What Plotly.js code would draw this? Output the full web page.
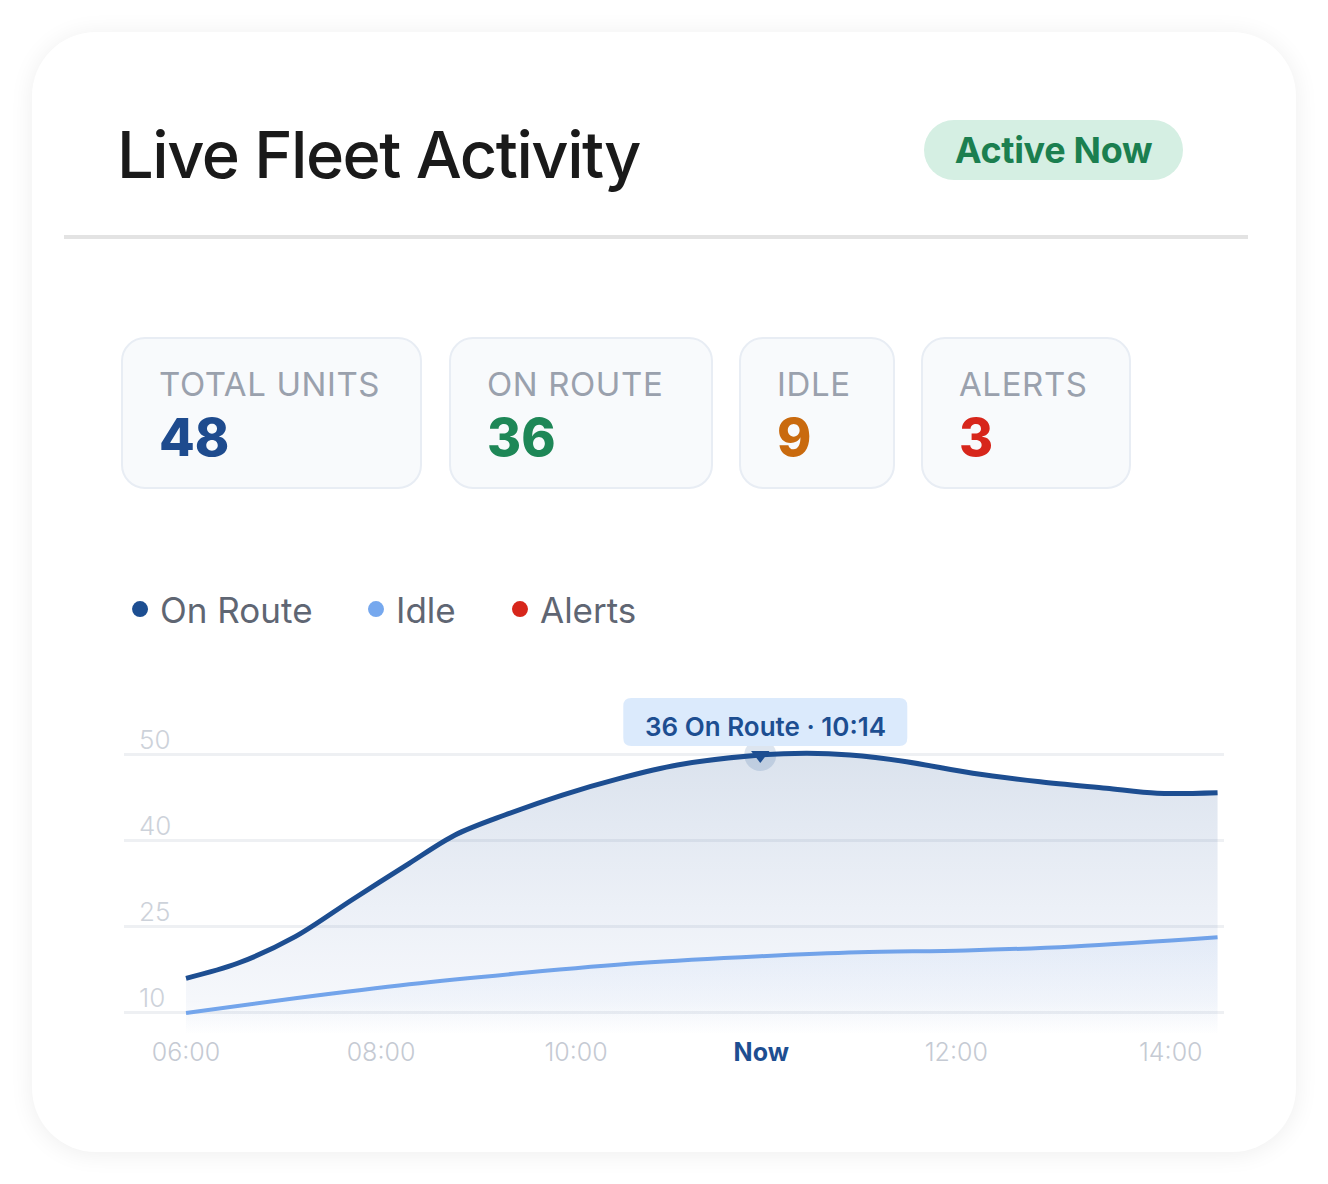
<!DOCTYPE html>
<html>
<head>
<meta charset="utf-8">
<script src="https://cdn.plot.ly/plotly-3.0.1.min.js"></script>
<style>
  html, body { margin:0; padding:0; background:#ffffff; width:1328px; height:1184px; overflow:hidden; font-family: Inter, "Noto Sans", sans-serif; }
  .card { position:absolute; left:32px; top:32px; width:1264px; height:1120px; border-radius:64px; background:#fff;
          box-shadow: 0 2px 24px rgba(0,0,0,0.07); }
  .title { position:absolute; left:117px; top:115px; font-size:65px; font-weight:500; color:#1a1a1a; letter-spacing:-1.5px; }
  .badge { position:absolute; left:924px; top:120px; width:259px; height:60px; border-radius:30px; background:#d5efe3;
           color:#1b7f50; font-weight:700; font-size:36px; line-height:60px; text-align:center; letter-spacing:-0.3px; }
  .divider { position:absolute; left:64px; top:235px; width:1184px; height:4px; background:#e3e3e3; }
  .stat { position:absolute; top:337px; height:148px; border:2px solid #e8edf4; background:#f8fafc; border-radius:24px; box-sizing:content-box; }
  .stat .lab { position:absolute; left:36px; top:25px; font-size:33px; color:#9aa1ad; letter-spacing:0.6px; white-space:nowrap; }
  .stat .val { position:absolute; left:36px; top:67px; font-size:52px; font-weight:800; white-space:nowrap; }
  #chart { position:absolute; left:0; top:0; width:1328px; height:1184px; }
</style>
</head>
<body>
<div class="card"></div>
<div class="title">Live Fleet Activity</div>
<div class="badge">Active Now</div>
<div class="divider"></div>
<div id="stats"></div>
<div id="chart"></div>
<script>
// ---- data ----
const statLabels = ["TOTAL UNITS", "ON ROUTE", "IDLE", "ALERTS"];
const statValues = [48, 36, 9, 3];
const statColors = ["#1e4b8e", "#1e8757", "#c96a0e", "#d7261b"];
const statLeft = [121, 449, 739, 921];
const statWidth = [297, 260, 152, 206];

// x positions (time slot units), tick labels
const tickPos = [6, 8, 10, 11.9, 13.9, 16.1];
const tickLabels = ["06:00", "08:00", "10:00", "Now", "12:00", "14:00"];
const yTickPos = [10, 25, 40, 55];
const yTickLabels = ["10", "25", "40", "50"];

const onRouteX = [6.00, 6.53, 7.12, 7.70, 8.29, 8.76, 9.27, 9.86, 10.45, 11.04, 11.89, 12.37, 12.81, 13.39, 14.07, 14.76, 15.44, 15.96, 16.58];
const onRouteY = [16.05, 18.67, 23.31, 29.71, 36.11, 41.05, 44.53, 48.02, 50.93, 53.26, 55.00, 55.30, 55.00, 53.83, 51.81, 50.34, 49.19, 48.32, 48.42];

const idleX = [6.00, 7.12, 8.29, 9.47, 10.65, 11.89, 12.90, 14.00, 15.10, 16.58];
const idleY = [10.0, 12.56, 15.0, 17.0, 18.7, 19.9, 20.6, 20.9, 21.6, 23.2];

const legendNames = ["On Route", "Idle", "Alerts"];
const legendColors = ["#1d4e91", "#76a8ee", "#d7261b"];

const peakX = 11.89, peakY = 55.0;
const tooltipText = "36 On Route · 10:14";

// ---- stat cards ----
const statsDiv = document.getElementById("stats");
statLabels.forEach((l, i) => {
  const d = document.createElement("div");
  d.className = "stat";
  d.style.left = statLeft[i] + "px";
  d.style.width = statWidth[i] + "px";
  d.innerHTML = '<div class="lab">' + l + '</div><div class="val" style="color:' + statColors[i] + '">' + statValues[i] + '</div>';
  statsDiv.appendChild(d);
});

// ---- chart ----
const traces = [
  {
    x: idleX, y: idleY, type: "scatter", mode: "lines", showlegend: false, hoverinfo: "skip",
    line: { color: "#76a8ee", width: 4, shape: "spline", smoothing: 1 },
    fill: "tozeroy",
    fillgradient: { type: "vertical", start: 6.2, stop: 23,
      colorscale: [[0, "rgba(118,168,238,0)"], [1, "rgba(118,168,238,0.10)"]] }
  },
  {
    x: onRouteX, y: onRouteY, type: "scatter", mode: "lines", showlegend: false, hoverinfo: "skip",
    line: { color: "#1d4e91", width: 5, shape: "spline", smoothing: 0.9 },
    fill: "tozeroy",
    fillgradient: { type: "vertical", start: 6.2, stop: 55,
      colorscale: [[0, "rgba(29,78,145,0)"], [0.12, "rgba(60,100,180,0.05)"], [1, "rgba(29,78,145,0.16)"]] }
  },
  {
    x: [peakX], y: [peakY], type: "scatter", mode: "markers", showlegend: false, hoverinfo: "skip",
    marker: { size: 32, color: "rgba(29,78,145,0.15)" }
  },
  {
    x: [peakX], y: [peakY], type: "scatter", mode: "markers", showlegend: false, hoverinfo: "skip",
    marker: { size: 16, symbol: "triangle-down", color: "#1d4e91" }
  }
];
const legendIds = ["legend", "legend2", "legend3"];
legendNames.forEach((n, i) => {
  traces.push({ x: [null], y: [null], type: "scatter", mode: "markers", name: n, legend: legendIds[i],
    marker: { size: 24, color: legendColors[i] }, hoverinfo: "skip" });
});

const legendBase = { orientation: "h", xanchor: "left", y: 1.199, yanchor: "middle",
  font: { size: 35, color: "#5f6673" }, bgcolor: "rgba(0,0,0,0)" };
// plot area: x 124..1224 px, y 680..1035 px
const layout = {
  width: 1328, height: 1184,
  margin: { l: 124, r: 104, t: 680, b: 149, pad: 0 },
  paper_bgcolor: "rgba(0,0,0,0)", plot_bgcolor: "rgba(0,0,0,0)",
  font: { family: "Inter, 'Noto Sans', sans-serif" },
  showlegend: true,
  legend: Object.assign({}, legendBase, { x: -0.0036 }),
  legend2: Object.assign({}, legendBase, { x: 0.2109 }),
  legend3: Object.assign({}, legendBase, { x: 0.3418 }),
  xaxis: {
    range: [5.364, 16.646], tickvals: tickPos,
    ticktext: tickLabels.map(t => t === "Now" ? '<b><span style="color:#1d4e91">Now</span></b>' : t),
    showgrid: false, zeroline: false, showline: false, ticks: "",
    tickfont: { size: 25, color: "#c5cad3", weight: 300 }, ticklabelstandoff: 0, fixedrange: true
  },
  yaxis: {
    range: [6.16, 68.08], tickvals: yTickPos, ticktext: yTickLabels,
    showgrid: true, gridcolor: "#eef0f3", gridwidth: 3, zeroline: false, showline: false, ticks: "",
    ticklabelposition: "inside top", ticklabelstandoff: 12, ticklabelshift: 3,
    tickfont: { size: 26, color: "#cdd2da", weight: 300 }, fixedrange: true
  },
  shapes: [
    {
      type: "path", xref: "x", yref: "y", xsizemode: "pixel", ysizemode: "pixel",
      xanchor: peakX, yanchor: peakY, layer: "above",
      path: "M -129 9 L 139 9 Q 147 9 147 17 L 147 49 Q 147 57 139 57 L -129 57 Q -137 57 -137 49 L -137 17 Q -137 9 -129 9 Z",
      fillcolor: "#dbeafc", line: { width: 0 }
    }
  ],
  annotations: [
    {
      x: peakX, y: peakY, xref: "x", yref: "y", text: tooltipText, showarrow: false,
      xanchor: "center", yanchor: "middle", xshift: 5, yshift: 28,
      font: { size: 26, color: "#1d4e91", weight: 600 }
    }
  ]
};

Plotly.newPlot("chart", traces, layout, { staticPlot: true, displayModeBar: false });
</script>
</body>
</html>
